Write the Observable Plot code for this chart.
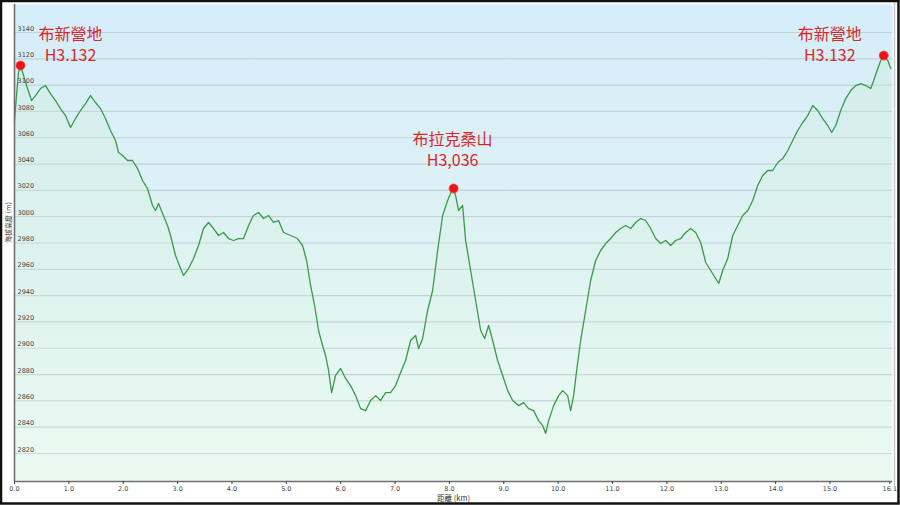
<!DOCTYPE html>
<html><head><meta charset="utf-8">
<script src="https://cdn.jsdelivr.net/npm/d3@7"></script>
<script src="https://cdn.jsdelivr.net/npm/@observablehq/plot@0.6"></script>
<style>html,body{margin:0;padding:0;background:#fff;overflow:hidden;} svg{display:block;}</style>
</head><body><div id="chart"></div>
<script>
const distanceKm = [0,0.037,0.074,0.110,0.166,0.239,0.313,0.386,0.478,0.570,0.662,0.754,0.846,0.938,1.030,1.122,1.214,1.306,1.398,1.490,1.582,1.674,1.766,1.858,1.914,1.987,2.079,2.171,2.263,2.355,2.447,2.539,2.594,2.650,2.723,2.815,2.870,2.962,3.054,3.110,3.202,3.293,3.385,3.477,3.569,3.661,3.753,3.845,3.937,4.029,4.121,4.213,4.305,4.397,4.489,4.581,4.673,4.765,4.857,4.949,5.078,5.207,5.299,5.373,5.446,5.520,5.593,5.667,5.722,5.777,5.833,5.906,5.998,6.090,6.182,6.274,6.366,6.458,6.550,6.642,6.734,6.826,6.918,7.010,7.102,7.194,7.286,7.378,7.433,7.507,7.599,7.691,7.783,7.875,7.967,8.022,8.077,8.114,8.169,8.243,8.298,8.390,8.482,8.574,8.648,8.721,8.795,8.887,8.979,9.071,9.163,9.273,9.365,9.457,9.549,9.641,9.715,9.770,9.825,9.917,10.009,10.083,10.175,10.230,10.285,10.340,10.414,10.506,10.598,10.690,10.782,10.874,10.966,11.058,11.150,11.242,11.334,11.426,11.518,11.610,11.702,11.794,11.886,11.978,12.070,12.162,12.254,12.346,12.438,12.530,12.622,12.714,12.806,12.898,12.953,13.027,13.119,13.211,13.303,13.395,13.487,13.579,13.670,13.762,13.854,13.947,14.039,14.131,14.223,14.315,14.407,14.499,14.591,14.683,14.775,14.867,14.959,15.032,15.106,15.198,15.290,15.382,15.474,15.566,15.658,15.750,15.805,15.879,15.934,15.989,16.063,16.118];
const elevationM = [3073.1,3092.1,3109.6,3114.9,3107.3,3097.4,3088.3,3092.1,3097.4,3099.7,3093.6,3088.3,3082.2,3076.9,3067.8,3074.6,3080.7,3086.0,3092.1,3086.8,3082.2,3074.6,3065.5,3057.9,3048.8,3046.5,3042.7,3042.7,3036.6,3027.5,3021.4,3008.5,3004.7,3010.0,3002.4,2993.3,2985.7,2970.5,2960.6,2955.3,2960.6,2968.2,2978.1,2991.0,2995.6,2991.0,2985.7,2988.0,2983.4,2981.9,2983.4,2983.4,2993.3,3000.9,3003.2,2998.6,3000.9,2995.6,2997.1,2988.0,2985.7,2983.4,2978.1,2966.7,2947.7,2932.5,2913.5,2902.1,2894.5,2883.1,2866.3,2879.3,2884.6,2877.0,2871.6,2864.0,2854.1,2852.6,2860.3,2864.0,2860.3,2866.3,2866.3,2871.6,2881.5,2890.7,2905.9,2909.7,2899.8,2907.4,2928.7,2943.9,2974.3,3000.9,3012.3,3018.0,3021.4,3016.1,3004.7,3008.5,2981.9,2959.1,2936.3,2913.5,2907.4,2917.3,2905.9,2890.7,2879.3,2867.8,2860.3,2856.4,2858.7,2854.1,2852.6,2845.0,2841.2,2835.2,2845.0,2856.4,2864.0,2867.8,2864.0,2852.6,2864.0,2883.1,2905.9,2928.7,2951.5,2966.7,2974.3,2979.6,2983.4,2988.0,2991.0,2993.3,2991.0,2995.6,2998.6,2997.1,2991.0,2983.4,2979.6,2981.9,2978.1,2981.9,2983.4,2988.0,2991.0,2988.0,2980.4,2965.2,2959.1,2953.0,2949.2,2959.1,2968.2,2985.7,2993.3,3000.9,3004.7,3012.3,3023.7,3031.3,3035.1,3035.1,3041.2,3044.2,3050.3,3057.9,3065.5,3071.6,3076.9,3084.5,3080.7,3074.6,3069.3,3064.0,3069.3,3080.7,3089.8,3095.9,3099.7,3101.2,3099.7,3097.4,3103.5,3112.6,3118.7,3122.5,3118.7,3112.6];

const peakKm = [0.110, 8.077, 15.989];
const peakElev = [3114.9, 3021.4, 3122.5];
const peakLabels = ["布新營地\nH3.132", "布拉克桑山\nH3,036", "布新營地\nH3.132"];
const yTicks = [2820,2840,2860,2880,2900,2920,2940,2960,2980,3000,3020,3040,3060,3080,3100,3120,3140];
const xTicks = [0,1,2,3,4,5,6,7,8,9,10,11,12,13,14,15,16.1];
const xTitle = "距離 (km)";
const yTitle = "海拔高度 (m)";

const profile = distanceKm.map((d, i) => ({km: d, elev: elevationM[i]}));
const peaks = peakKm.map((d, i) => ({km: d, elev: peakElev[i], label: peakLabels[i]}));
const yDomain = [2798.7, 3161.3];
const labelOffsets = [[50, -22], [-1, -40], [-54, -12]];

const chart = Plot.plot({
  width: 900, height: 505,
  marginLeft: 14, marginRight: 8, marginTop: 4, marginBottom: 24,
  x: {domain: [0, 16.15], axis: null},
  y: {domain: yDomain, axis: null},
  style: {fontFamily: "DejaVu Sans, sans-serif", background: "transparent"},
  marks: [
    Plot.frame({fill: "url(#bgGrad)", stroke: "none"}),
    Plot.gridY(yTicks, {stroke: "#c3d2d6", strokeOpacity: 1, strokeWidth: 1.2}),
    Plot.areaY(profile, {x: "km", y1: yDomain[0], y2: "elev", fill: "url(#areaGrad)"}),
    Plot.line(profile, {x: "km", y: "elev", stroke: "#3a9a4c", strokeWidth: 1.3}),
    Plot.ruleX([0], {stroke: "#707070", strokeWidth: 1.6}),
    Plot.ruleY([yDomain[0]], {stroke: "#707070", strokeWidth: 1.6}),
    Plot.axisX(xTicks, {tickFormat: d3.format(".1f"), tickSize: 3, tickPadding: 2, fontSize: 6.5, color: "#444", label: null}),
    Plot.text(yTicks, {y: d => d, frameAnchor: "left", dx: 3, dy: -4, fontSize: 6.5, fill: "#444", text: d => String(d)}),
    Plot.text([yTitle], {frameAnchor: "left", dx: -6, rotate: -90, fontSize: 7, fill: "#333", fontFamily: "Noto Sans CJK TC"}),
    Plot.text([xTitle], {frameAnchor: "bottom", dy: 17, lineAnchor: "middle", fontSize: 7.5, fill: "#333", fontFamily: "Noto Sans CJK TC"}),
    Plot.dot(peaks, {x: "km", y: "elev", r: 4.5, fill: "#e8161b", stroke: "#ff4040", strokeWidth: 0.8}),
    ...peaks.map((p, i) => Plot.text([p], {x: "km", y: "elev", text: "label", dx: labelOffsets[i][0], dy: labelOffsets[i][1], fontSize: 16, lineHeight: 1.3, fill: "#d6282b", fontFamily: "Noto Sans CJK TC"}))
  ]
});

const svg = d3.select(chart);
const defs = svg.insert("defs", ":first-child");
const bg = defs.append("linearGradient").attr("id", "bgGrad").attr("x1", 0).attr("y1", 0).attr("x2", 0).attr("y2", 1);
bg.append("stop").attr("offset", "0%").attr("stop-color", "#d5edfa");
bg.append("stop").attr("offset", "55%").attr("stop-color", "#e0f3f3");
bg.append("stop").attr("offset", "100%").attr("stop-color", "#ecfaf3");
const ag = defs.append("linearGradient").attr("id", "areaGrad").attr("x1", 0).attr("y1", 0).attr("x2", 0).attr("y2", 1);
ag.append("stop").attr("offset", "0%").attr("stop-color", "#c8ecd2").attr("stop-opacity", 0.3);
ag.append("stop").attr("offset", "100%").attr("stop-color", "#e4f8ec").attr("stop-opacity", 0.2);
svg.append("line").attr("x1", 894.5).attr("x2", 894.5).attr("y1", 2).attr("y2", 490).attr("stroke", "#c8c8c8").attr("stroke-width", 1.5);
svg.append("rect").attr("x", 1).attr("y", 1).attr("width", 897.5).attr("height", 502.5).attr("fill", "none").attr("stroke", "#111").attr("stroke-width", 2.5);
document.getElementById("chart").appendChild(chart);
</script>
</body></html>
